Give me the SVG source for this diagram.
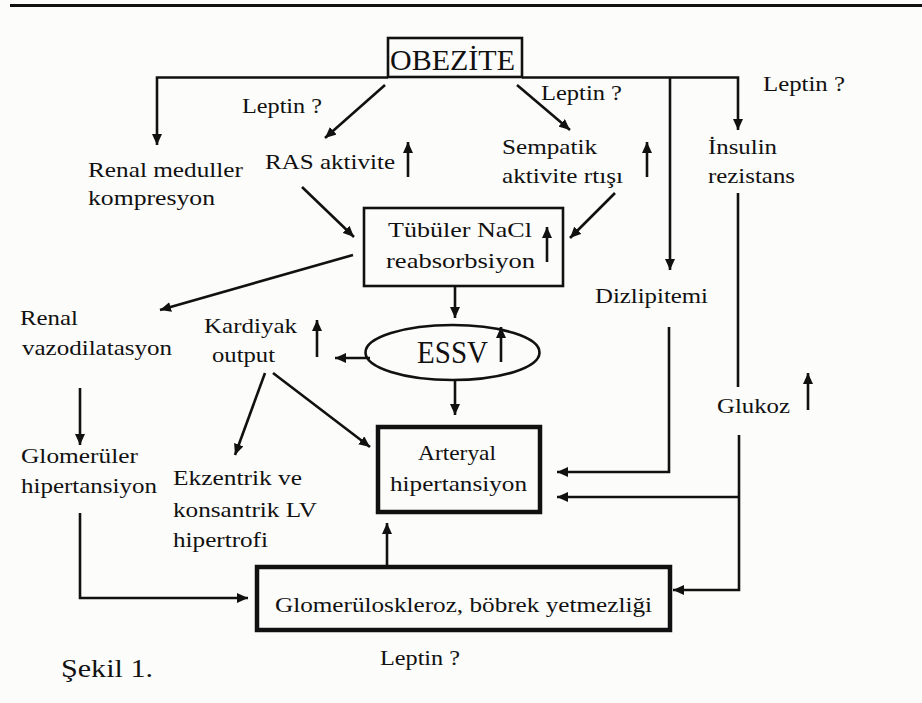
<svg xmlns="http://www.w3.org/2000/svg" width="922" height="703" viewBox="0 0 922 703">
<style>
text{font-family:'Liberation Serif',serif;font-size:22px;fill:#111}
text.big{font-size:29px}
text.essv{font-size:31px}
text.sek{font-size:26px}
.c{stroke:#111;stroke-width:2.6;fill:none}
.b{fill:none;stroke:#111;stroke-width:2.6}
.bb{fill:none;stroke:#111;stroke-width:4.5}
</style>
<defs>
<marker id="ah" markerUnits="userSpaceOnUse" markerWidth="11" markerHeight="10" refX="11" refY="5" orient="auto">
<path d="M0,0 L11,5 L0,10 z" fill="#111"/>
</marker>
</defs>
<rect width="922" height="703" fill="#fcfcfa"/>
<line x1="10" y1="5.5" x2="922" y2="5.5" stroke="#111" stroke-width="3"/>

<g id="obezite">
<rect class="b" x="388" y="38" width="134" height="39"/>
<text class="big" x="390" y="70" textLength="125" lengthAdjust="spacingAndGlyphs">OBEZİTE</text>
</g>
<g id="leptin1"><text x="242" y="113" textLength="80" lengthAdjust="spacingAndGlyphs">Leptin ?</text></g>
<g id="leptin2"><text x="541" y="100" textLength="81" lengthAdjust="spacingAndGlyphs">Leptin ?</text></g>
<g id="leptin3"><text x="763" y="91" textLength="82" lengthAdjust="spacingAndGlyphs">Leptin ?</text></g>
<g id="leptin4"><text x="380" y="665" textLength="80" lengthAdjust="spacingAndGlyphs">Leptin ?</text></g>
<g id="renal-meduller">
<text x="88" y="177" textLength="155" lengthAdjust="spacingAndGlyphs">Renal meduller</text>
<text x="88" y="205" textLength="127" lengthAdjust="spacingAndGlyphs">kompresyon</text>
</g>
<g id="ras">
<text x="265" y="169" textLength="130" lengthAdjust="spacingAndGlyphs">RAS aktivite</text>
</g>
<g id="sempatik">
<text x="502" y="154" textLength="95" lengthAdjust="spacingAndGlyphs">Sempatik</text>
<text x="502" y="183" textLength="121" lengthAdjust="spacingAndGlyphs">aktivite rtışı</text>
</g>
<g id="insulin">
<text x="708" y="154" textLength="69" lengthAdjust="spacingAndGlyphs">İnsulin</text>
<text x="708" y="183" textLength="87" lengthAdjust="spacingAndGlyphs">rezistans</text>
</g>
<g id="tubuler">
<rect class="b" x="364" y="208" width="199" height="78"/>
<text x="388" y="237" textLength="144" lengthAdjust="spacingAndGlyphs">Tübüler NaCl</text>
<text x="386" y="268" textLength="149" lengthAdjust="spacingAndGlyphs">reabsorbsiyon</text>
</g>
<g id="dizlipitemi"><text x="595" y="303" textLength="113" lengthAdjust="spacingAndGlyphs">Dizlipitemi</text></g>
<g id="renal-vazo">
<text x="20" y="325" textLength="58" lengthAdjust="spacingAndGlyphs">Renal</text>
<text x="22" y="355" textLength="150" lengthAdjust="spacingAndGlyphs">vazodilatasyon</text>
</g>
<g id="kardiyak">
<text x="204" y="333" textLength="93" lengthAdjust="spacingAndGlyphs">Kardiyak</text>
<text x="212" y="362" textLength="63" lengthAdjust="spacingAndGlyphs">output</text>
</g>
<g id="essv">
<ellipse class="b" cx="452.5" cy="352.5" rx="87" ry="27.5"/>
<text class="essv" x="417" y="363" textLength="71" lengthAdjust="spacingAndGlyphs">ESSV</text>
</g>
<g id="glukoz"><text x="717" y="413" textLength="73" lengthAdjust="spacingAndGlyphs">Glukoz</text></g>
<g id="arteryal">
<rect class="bb" x="378" y="427" width="162" height="85"/>
<text x="418" y="460" textLength="78" lengthAdjust="spacingAndGlyphs">Arteryal</text>
<text x="390" y="491" textLength="137" lengthAdjust="spacingAndGlyphs">hipertansiyon</text>
</g>
<g id="glomeruler">
<text x="21" y="463" textLength="117" lengthAdjust="spacingAndGlyphs">Glomerüler</text>
<text x="21" y="493" textLength="136" lengthAdjust="spacingAndGlyphs">hipertansiyon</text>
</g>
<g id="ekzentrik">
<text x="173" y="485" textLength="129" lengthAdjust="spacingAndGlyphs">Ekzentrik ve</text>
<text x="173" y="517" textLength="144" lengthAdjust="spacingAndGlyphs">konsantrik LV</text>
<text x="173" y="547" textLength="95" lengthAdjust="spacingAndGlyphs">hipertrofi</text>
</g>
<g id="glomeruloskleroz">
<rect class="bb" x="257" y="567" width="413" height="63"/>
<text x="275" y="612" textLength="377" lengthAdjust="spacingAndGlyphs">Glomerüloskleroz, böbrek yetmezliği</text>
</g>
<g id="sekil"><text class="sek" x="61" y="677" textLength="92" lengthAdjust="spacingAndGlyphs">Şekil 1.</text></g>

<g id="connectors">
<polyline class="c" points="388,77.5 157,77.5 157,145" marker-end="url(#ah)"/>
<polyline class="c" points="522,77.5 738,77.5 738,130" marker-end="url(#ah)"/>
<line class="c" x1="670" y1="77.5" x2="670" y2="270" marker-end="url(#ah)"/>
<line class="c" x1="385" y1="85" x2="325" y2="138" marker-end="url(#ah)"/>
<line class="c" x1="517" y1="85" x2="570" y2="130" marker-end="url(#ah)"/>
<line class="c" x1="408" y1="177" x2="408" y2="142" marker-end="url(#ah)"/>
<line class="c" x1="647" y1="177" x2="647" y2="142" marker-end="url(#ah)"/>
<line class="c" x1="302" y1="187" x2="354" y2="237" marker-end="url(#ah)"/>
<line class="c" x1="615" y1="193" x2="570" y2="238" marker-end="url(#ah)"/>
<line class="c" x1="547" y1="262" x2="547" y2="227" marker-end="url(#ah)"/>
<line class="c" x1="353" y1="255" x2="160" y2="310" marker-end="url(#ah)"/>
<line class="c" x1="455" y1="287" x2="455" y2="318" marker-end="url(#ah)"/>
<line class="c" x1="501" y1="362" x2="501" y2="327" marker-end="url(#ah)"/>
<line class="c" x1="370" y1="358" x2="335" y2="358" marker-end="url(#ah)"/>
<line class="c" x1="317" y1="357" x2="317" y2="320" marker-end="url(#ah)"/>
<line class="c" x1="455" y1="380" x2="455" y2="415" marker-end="url(#ah)"/>
<line class="c" x1="265" y1="373" x2="235" y2="455" marker-end="url(#ah)"/>
<line class="c" x1="273" y1="373" x2="370" y2="447" marker-end="url(#ah)"/>
<line class="c" x1="80" y1="388" x2="80" y2="445" marker-end="url(#ah)"/>
<polyline class="c" points="80,513 80,598 248,598" marker-end="url(#ah)"/>
<line class="c" x1="387" y1="567" x2="387" y2="523" marker-end="url(#ah)"/>
<polyline class="c" points="669,327 669,472 557,472" marker-end="url(#ah)"/>
<line class="c" x1="738" y1="193" x2="738" y2="387"/>
<line class="c" x1="808" y1="410" x2="808" y2="373" marker-end="url(#ah)"/>
<polyline class="c" points="739,435 739,590 673,590" marker-end="url(#ah)"/>
<line class="c" x1="739" y1="497" x2="557" y2="497" marker-end="url(#ah)"/>
</g>
</svg>
